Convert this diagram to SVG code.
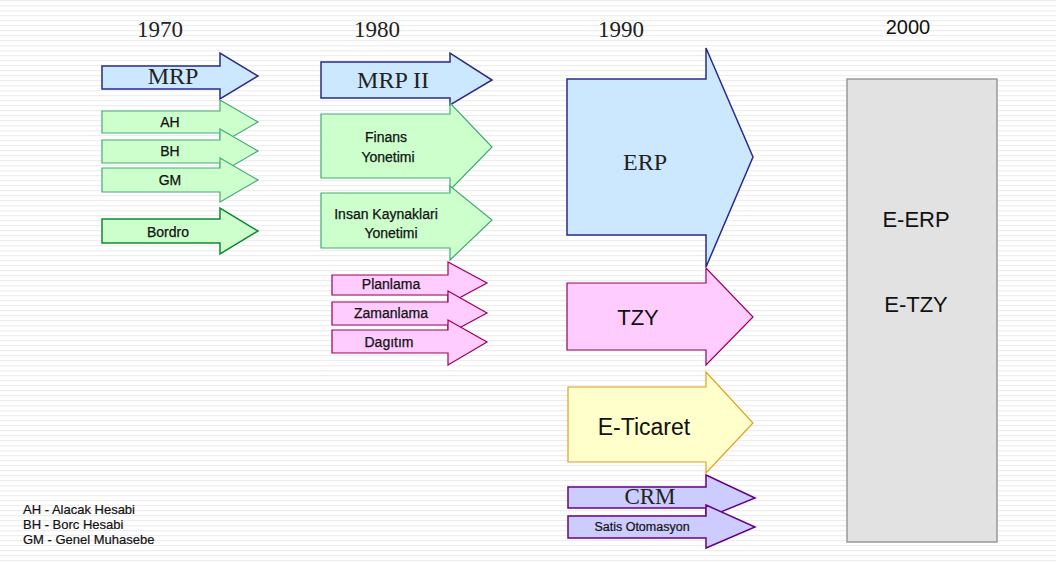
<svg xmlns="http://www.w3.org/2000/svg" width="1056" height="563" viewBox="0 0 1056 563">
<defs>
<pattern id="stripes" width="8" height="5" patternUnits="userSpaceOnUse">
<rect width="8" height="5" fill="#ffffff"/>
<rect y="0" width="8" height="1.2" fill="#eeeeee"/>
</pattern>
</defs>
<style>
.yr{font-family:"Liberation Serif",serif;font-size:23px;fill:#222;text-anchor:middle}
.ser{font-family:"Liberation Serif",serif;fill:#222;text-anchor:middle}
.sans{font-family:"Liberation Sans",Arial,sans-serif;fill:#111;text-anchor:middle}
.sm{font-size:14px;stroke:#111;stroke-width:0.25}
.leg{font-family:"Liberation Sans",Arial,sans-serif;font-size:13px;fill:#111;stroke:#111;stroke-width:0.2}
.blue{fill:#cce8ff;stroke:#2a2a8a;stroke-width:1.5}
.green{fill:#ccffcc;stroke:#44aa77;stroke-width:1.2}
.dgreen{fill:#ccffcc;stroke:#118833;stroke-width:1.5}
.pink{fill:#ffccff;stroke:#990055;stroke-width:1.2}
.yellow{fill:#ffffcc;stroke:#e0a020;stroke-width:1.2}
.purple{fill:#ccccff;stroke:#660088;stroke-width:1.5}
.gray{fill:#e2e2e2;stroke:#999;stroke-width:1.5}
</style>
<rect width="1056" height="563" fill="url(#stripes)"/>
<g id="years">
<text class="yr" x="160" y="37">1970</text>
<text class="yr" x="377" y="37">1980</text>
<text class="yr" x="621" y="37">1990</text>
<text class="sans" x="908" y="34" font-size="20" fill="#222">2000</text>
</g>
<g id="connectors"></g>
<g id="mrp"><polygon class="blue" points="102,66 220,66 220,53 258,76 220,99 220,89 102,89"/><text class="ser" x="173" y="84" font-size="24">MRP</text></g>
<g id="ah"><polygon class="green" points="102,111 220,111 220,100 258,122 220,144 220,133 102,133"/><text class="sans sm" x="170" y="127">AH</text></g>
<g id="bh"><polygon class="green" points="102,140 220,140 220,129 258,151 220,173 220,163 102,163"/><text class="sans sm" x="170" y="156">BH</text></g>
<g id="gm"><polygon class="green" points="102,168 220,168 220,158 258,180 220,202 220,192 102,192"/><text class="sans sm" x="170" y="185">GM</text></g>
<g id="bordro"><polygon class="dgreen" points="102,219 220,219 220,208 258,231 220,254 220,243 102,243"/><text class="sans sm" x="168" y="237">Bordro</text></g>

<g id="mrp2"><polygon class="blue" points="321,62 450,62 450,53 492,80 450,105 450,98 321,98"/><text class="ser" x="393" y="88" font-size="24">MRP II</text></g>
<g id="finans"><polygon class="green" points="321,114 450,114 450,103 492,147 450,190 450,178 321,178"/><text class="sans sm" x="386" y="142">Finans</text><text class="sans sm" x="388" y="162">Yonetimi</text></g>
<g id="insan"><polygon class="green" points="321,193 450,193 450,186 492,220 450,260 450,248 321,248"/><text class="sans sm" x="386" y="219">Insan Kaynaklari</text><text class="sans sm" x="391" y="238">Yonetimi</text></g>
<g id="planlama"><polygon class="pink" points="332,275 448,275 448,262 487,283 448,304 448,295 332,295"/><text class="sans sm" x="391" y="289">Planlama</text></g>
<g id="zamanlama"><polygon class="pink" points="332,302 448,302 448,291 487,313 448,334 448,325 332,325"/><text class="sans sm" x="391" y="318">Zamanlama</text></g>
<g id="dagitim"><polygon class="pink" points="332,330 448,330 448,320 487,342 448,365 448,353 332,353"/><text class="sans sm" x="389" y="347">Dagıtım</text></g>

<g id="erp"><polygon class="blue" points="567,79 706,79 706,48 753,157 706,267 706,235 567,235"/><text class="ser" x="645" y="170" font-size="24">ERP</text></g>
<g id="tzy"><polygon class="pink" points="567,283 706,283 706,268 753,317 706,365 706,350 567,350"/><text class="sans" x="638" y="325" font-size="22">TZY</text></g>
<g id="eticaret"><polygon class="yellow" points="568,387 706,387 706,372 753,423 706,473 706,462 568,462"/><text class="sans" x="644" y="435" font-size="23">E-Ticaret</text></g>
<g id="crm"><polygon class="purple" points="568,487 706,487 706,475 755,498 706,518 706,508 568,508"/><text class="ser" x="650" y="504" font-size="23">CRM</text></g>
<g id="satis"><polygon class="purple" points="568,516 706,516 706,505 755,527 706,548 706,538 568,538"/><text class="sans" x="642" y="531" font-size="12.5" stroke="#111" stroke-width="0.2">Satis Otomasyon</text></g>

<g id="e2000"><rect class="gray" x="847" y="79" width="150" height="463"/><text class="sans" x="916" y="227" font-size="22">E-ERP</text><text class="sans" x="916" y="312" font-size="22">E-TZY</text></g>

<g id="legend">
<text class="leg" x="23" y="514">AH - Alacak Hesabi</text>
<text class="leg" x="23" y="529">BH - Borc Hesabi</text>
<text class="leg" x="23" y="544">GM - Genel Muhasebe</text>
</g>
</svg>
